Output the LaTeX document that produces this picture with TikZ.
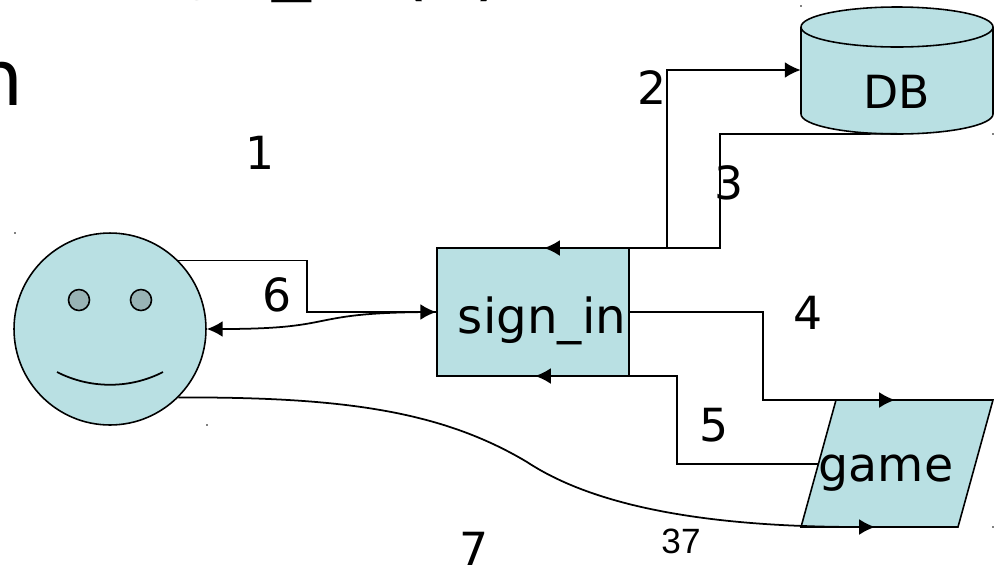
\documentclass[tikz,border=0pt]{standalone}
\usepackage{fontspec}
\setmainfont{DejaVu Sans}
\newfontfamily\arialfont{Liberation Sans}
\usetikzlibrary{arrows.meta,shapes.geometric}
\definecolor{paleblue}{HTML}{B9E0E3}
\definecolor{eyegrey}{HTML}{98B3B5}
\begin{document}
\begin{tikzpicture}[
            x=0.02cm, y=-0.02cm,
            thing/.style={draw=black, fill=paleblue, line width=0.9pt, inner sep=0pt},
            arrow/.style={-{Latex[length=9pt,width=9pt]}, line width=1pt},
            num/.style={inner sep=0pt, font=\fontsize{26}{30}\selectfont},
            big/.style={inner sep=0pt, font=\fontsize{44}{50}\selectfont}
        ]
            \useasboundingbox (0,0) rectangle (994,566);

            % Slide title, cut off
            \node[big, anchor=base west] (title) at (112,-16) {sign\_in};
            \node[big, anchor=base west] (titlearg) at (398,-9) {(x)};
            \node[big, anchor=base east] (titletail) at (24,105) {n};

            % Person
            \node[thing, circle, minimum size=3.84cm] (user) at (110,329) {};
            \draw[thing, fill=eyegrey] (79,300) circle [radius=10.5];
            \draw[thing, fill=eyegrey] (141,300) circle [radius=10.5];
            \draw[line width=1pt] (57,372) .. controls (90,389) and (130,389) .. (163,372);

            % sign_in
            \node[thing, minimum width=3.84cm, minimum height=2.56cm] (signin) at (533,312) {};
            \node[num, font=\fontsize{27.5}{30}\selectfont] (signinlabel) at (542,321) {sign\_in};

            % DB
            \node[inner sep=0pt, minimum width=3.84cm, minimum height=2.54cm] (db) at (897,70) {};
            \draw[thing] (801,27) -- (801,114) arc [start angle=180, end angle=0, x radius=96, y radius=20] -- (993,27);
            \draw[thing] (897,27) ellipse [x radius=96, y radius=20];
            \node[num] (dblabel) at (897,92) {DB};

            % game
            \node[thing, inner sep=1pt, trapezium, trapezium left angle=74, trapezium right angle=106, trapezium stretches=true, minimum width=3.84cm, minimum height=2.54cm] (game) at (897,463.5) {};
            \node[num, font=\fontsize{27}{30}\selectfont] (gamelabel) at (886,473) {game};

            % Named points on the borders
            \coordinate (split) at (667,248);
            \coordinate (gametop) at (895,400);
            \coordinate (gamebot) at (875,527);
            \coordinate (gamewest) at (818,464);

            % Connections
            \draw[arrow] (split) -- (667,70) -- (db.west);
            \draw[arrow] (db.south) -- (720,134) -- (720,248) -- (544,248);
            \draw[arrow] (user.45) -| (307,312) -- (signin.west);
            \draw[arrow] (signin.west) .. controls (300,312) and (345,329) .. (user.east);
            \draw[arrow] (signin.east) -- (763,312) -- (763,400) -- (gametop);
            \draw[arrow] (gamewest) -- (677,464) -- (677,376) -- (535,376);
            \draw[arrow] (user.-45) .. controls (340,397) and (440,410) .. (527,462) .. controls (600,510) and (720,527) .. (gamebot);

            % Labels
            \node[num] (one) at (260,153) {1};
            \node[num] (two) at (652,88) {2};
            \node[num] (three) at (729,183) {3};
            \node[num] (four) at (808,313) {4};
            \node[num] (five) at (714,425) {5};
            \node[num] (six) at (277,295) {6};
            \node[num] (seven) at (474,549) {7};
            \node[inner sep=0pt, font=\arialfont\fontsize{20}{24}\selectfont] (page) at (681,541) {37};

            % Stray handle specks
            \foreach \px/\py in {15/233, 207/425, 801/6, 993/134, 993/527}
                \fill (\px,\py) circle [radius=0.8];
        \end{tikzpicture}
\end{document}
